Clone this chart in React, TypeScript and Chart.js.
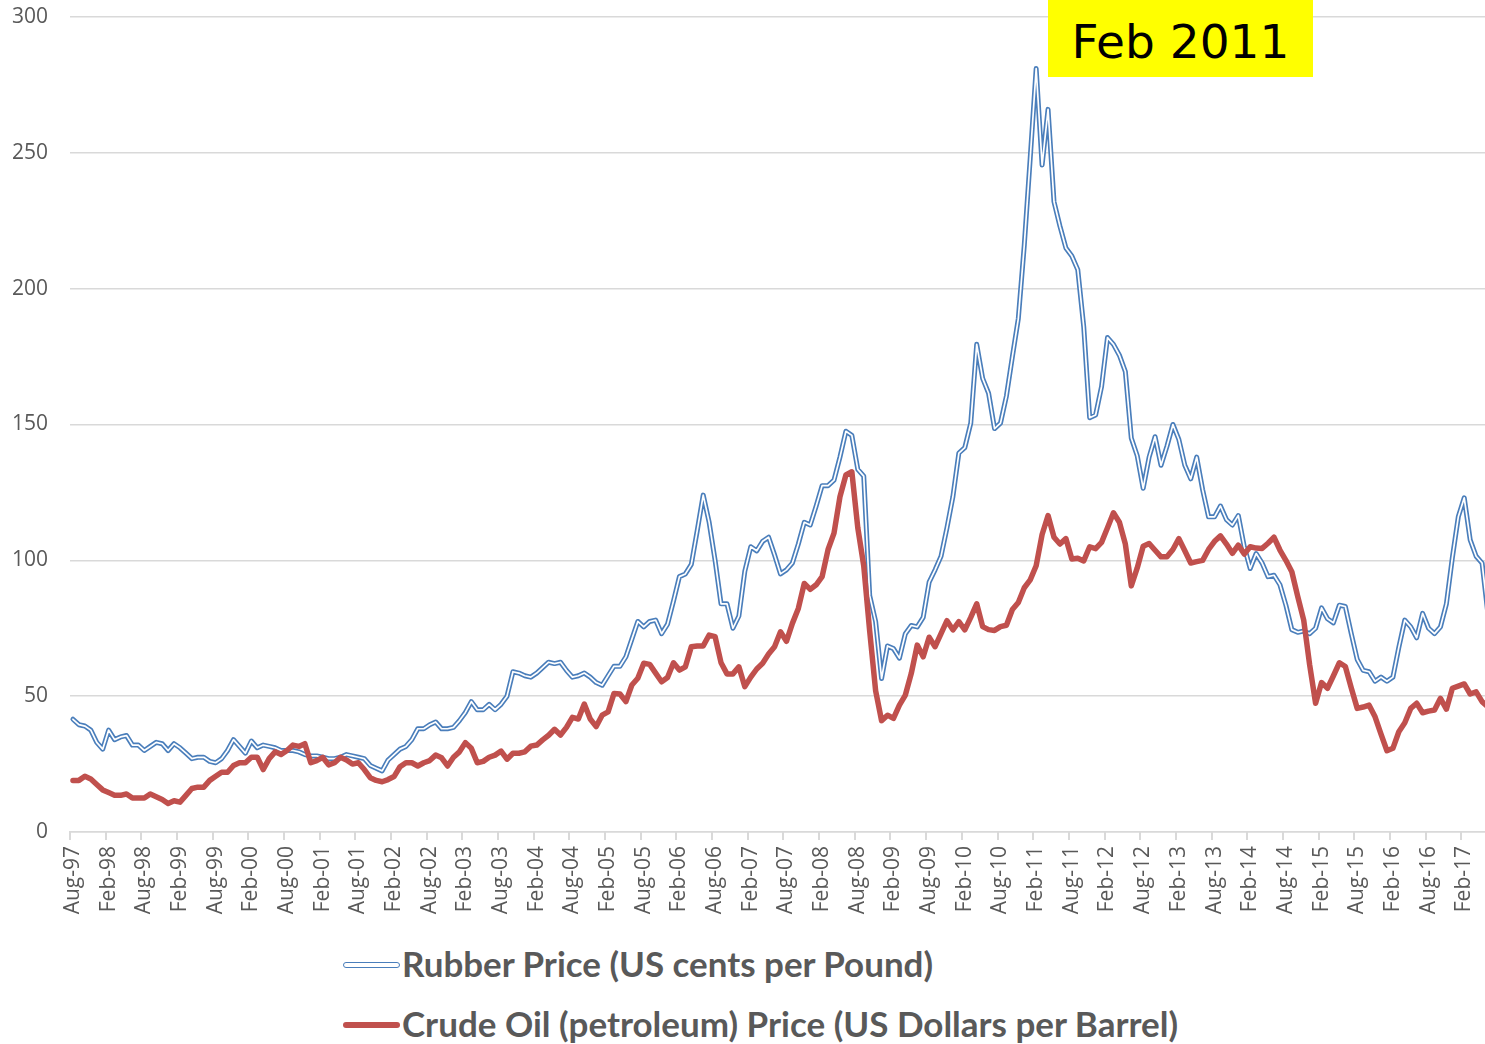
import React, { useEffect, useRef } from 'react';
import { Chart, registerables } from 'chart.js';

Chart.register(...registerables);

// Monthly series, Aug-97 .. Jun-17
const rubberPrice: number[] = [
  41.5, 39.5, 39, 37.5, 33, 30.5, 37.5, 34, 35, 35.5,
  32, 32, 30, 31.5, 33, 32.5, 30, 32.5, 31, 29,
  27, 27.5, 27.5, 26, 25.5, 27, 30, 34, 31.5, 29,
  33.5, 31, 32, 31.5, 31, 30, 30, 30, 29.5, 28.5,
  28, 28, 27.5, 27, 27, 27.5, 28.5, 28, 27.5, 27,
  24.5, 23.5, 22.5, 26.5, 28.5, 30.5, 31.5, 34, 38, 38,
  39.5, 40.5, 38, 38, 38.5, 41, 44, 48, 45, 45,
  47, 45, 47, 50, 59, 58.5, 57.5, 57, 58.5, 60.5,
  62.5, 62, 62.5, 59.5, 57, 57.5, 58.5, 57, 55, 54,
  57.5, 61, 61, 64.5, 71, 77.5, 75.5, 77.5, 78, 73,
  76.5, 85, 94, 95, 98.5, 111, 124, 114, 100, 84,
  84, 75, 79.5, 96, 105, 103.5, 107, 108.5, 102, 95,
  96.5, 99, 106, 114, 113, 120, 127.5, 127.5, 129.5, 138,
  147.5, 146, 133.5, 131, 87, 77.5, 56.5, 68.5, 67.5, 64,
  73, 76, 75.5, 79, 92, 96.5, 101.5, 112, 123.5, 139.5,
  141.5, 150.5, 179.5, 167, 161.5, 148.5, 150.5, 160.5, 175, 189,
  216, 248, 281, 245.5, 266, 232, 223, 215, 212, 207,
  186, 152.5, 153.5, 164, 182, 179.5, 175.5, 169.5, 145, 138.5,
  126.5, 138, 145.5, 135, 142, 150, 144.5, 135, 130, 138,
  126, 116, 116, 120, 115, 113, 116.5, 105, 97, 102.5,
  99, 94, 94.5, 91, 83.5, 74.5, 73.5, 74, 73, 75,
  82.5, 78.5, 77, 83.5, 83, 73, 63.5, 59.5, 59, 55.5,
  57, 55.5, 57, 68, 78, 75.5, 71.5, 80.5, 75, 73,
  75.5, 84, 101, 116, 123, 107.5, 101.5, 99, 80,
];

const crudeOilPrice: number[] = [
  19, 19, 20.5, 19.5, 17.5, 15.5, 14.5, 13.5, 13.5, 14,
  12.5, 12.5, 12.5, 14, 13, 12, 10.5, 11.5, 11, 13.5,
  16, 16.5, 16.5, 19, 20.5, 22, 22, 24.5, 25.5, 25.5,
  27.5, 27.5, 23, 27, 29.5, 28.5, 30, 32, 31.5, 32.5,
  25.5, 26.3, 27.5, 24.7, 25.5, 27.5, 26.5, 25, 25.5, 23,
  20, 19, 18.5, 19.3, 20.4, 24, 25.5, 25.5, 24.3, 25.5,
  26.3, 28.3, 27.3, 24.3, 27.5, 29.5, 32.9, 30.8, 25.5, 26,
  27.5, 28.3, 29.8, 26.8, 29, 29, 29.5, 31.6, 32, 33.9,
  35.6, 37.8, 35.7, 38.5, 42.2, 41.6, 47.1, 41.6, 38.8, 43,
  44.2, 51, 50.8, 48, 54.1, 56.6, 62.1, 61.7, 58.5, 55.3,
  56.9, 62.3, 59.6, 60.8, 68.2, 68.5, 68.5, 72.5, 71.9, 62.3,
  58.2, 58.2, 60.8, 53.5, 57, 60, 62.1, 65.5, 68.2, 73.7,
  70.2, 76.8, 82.3, 91.5, 89.3, 91, 94, 104, 110, 123.4,
  131.4, 132.6, 112, 98, 74, 52, 41, 43, 41.8, 46.7,
  50.4, 58.4, 68.8, 64.5, 71.7, 68.2, 73, 77.8, 74.4, 77.4,
  74.4, 79, 84, 75.6, 74.5, 74.2, 75.6, 76.1, 81.9, 84.5,
  89.9, 92.8, 98, 109.5, 116.5, 108.5, 106, 108, 100.5, 100.8,
  99.8, 105, 104.3, 106.6, 112, 117.5, 114, 106, 90.6, 97.2,
  105.2, 106.2, 103.7, 101.3, 101.3, 104, 108, 103.5, 99, 99.5,
  100, 104, 107, 109, 106, 102.6, 105.6, 102.3, 105, 104.5,
  104.4, 106.3, 108.5, 103.8, 100, 95.8, 86.6, 78, 61.5, 47.4,
  55, 52.9, 57.5, 62.3, 60.9, 53, 45.5, 46, 46.7, 42.4,
  36, 29.9, 30.8, 36.9, 40.2, 45.5, 47.4, 43.9, 44.5, 44.9,
  49.2, 45.2, 52.9, 53.7, 54.5, 50.8, 51.6, 48, 46,
];

const monthNames: string[] = ['Jan', 'Feb', 'Mar', 'Apr', 'May', 'Jun', 'Jul', 'Aug', 'Sep', 'Oct', 'Nov', 'Dec'];
const startYear = 1997;
const startMonth = 7; // Aug
const categories: string[] = rubberPrice.map((_, i) => {
  const m = (startMonth + i) % 12;
  const y = startYear + Math.floor((startMonth + i) / 12);
  return `${monthNames[m]}-${String(y % 100).padStart(2, '0')}`;
});
const labelEvery = 6;

const yTicks = { min: 0, max: 300, step: 50 };

const seriesNames = ['Rubber Price (US cents per Pound)', 'Crude Oil (petroleum) Price (US Dollars per Barrel)'];
const legendWidths = [531, 776];
const annotationText = 'Feb 2011';

const BLUE = '#4a7ebb';
const RED = '#c0504d';
const GRID = '#d9d9d9';
const TEXT = '#595959';

const tickMarkPlugin = {
  id: 'tickMarks',
  afterDraw(chart: any) {
    const s = chart.scales.x;
    const ctx = chart.ctx;
    const half = (s.getPixelForValue(1) - s.getPixelForValue(0)) / 2;
    ctx.save();
    ctx.strokeStyle = GRID;
    ctx.lineWidth = 2;
    for (let i = 0; i < categories.length; i += labelEvery) {
      const x = Math.round(s.getPixelForValue(i) - half);
      ctx.beginPath();
      ctx.moveTo(x, s.top);
      ctx.lineTo(x, s.top + 8);
      ctx.stroke();
    }
    ctx.restore();
  },
};

export default function App() {
  const ref = useRef<HTMLCanvasElement | null>(null);
  const legendRefs = useRef<(HTMLSpanElement | null)[]>([]);

  useEffect(() => {
    legendRefs.current.forEach((el, k) => {
      if (!el) return;
      el.style.transform = 'none';
      const w = el.getBoundingClientRect().width;
      if (w > 0) el.style.transform = `scaleX(${legendWidths[k] / w})`;
    });
  }, []);

  useEffect(() => {
    if (!ref.current) return;
    const tickFont = { family: '"Open Sans", sans-serif', size: 21 };
    const chart = new Chart(ref.current, {
      type: 'line',
      data: {
        labels: categories,
        datasets: [
          {
            label: seriesNames[1],
            data: crudeOilPrice,
            borderColor: RED,
            backgroundColor: RED,
            borderWidth: 5.5,
            pointRadius: 0,
            tension: 0,
            borderJoinStyle: 'round',
            borderCapStyle: 'round',
            order: 1,
          },
          {
            label: seriesNames[0] + ' inner',
            data: rubberPrice,
            borderColor: '#ffffff',
            borderWidth: 1.7,
            pointRadius: 0,
            tension: 0,
            borderJoinStyle: 'round',
            borderCapStyle: 'round',
            order: 2,
          },
          {
            label: seriesNames[0],
            data: rubberPrice,
            borderColor: BLUE,
            backgroundColor: BLUE,
            borderWidth: 5,
            pointRadius: 0,
            tension: 0,
            borderJoinStyle: 'round',
            borderCapStyle: 'round',
            order: 3,
          },
        ],
      },
      options: {
        responsive: false,
        animation: false,
        devicePixelRatio: 1,
        layout: { padding: { top: 17, right: 0, bottom: 0, left: 0 } },
        plugins: { legend: { display: false }, tooltip: { enabled: false } },
        scales: {
          x: {
            type: 'category',
            offset: true,
            grid: {
              offset: true,
              drawOnChartArea: false,
              drawTicks: true,
              tickLength: 8,
              lineWidth: 1.5,
              color: 'rgba(0,0,0,0)',
            },
            border: { display: true, color: GRID, width: 1.5 },
            ticks: {
              autoSkip: false,
              minRotation: 90,
              maxRotation: 90,
              padding: 6,
              color: TEXT,
              font: tickFont,
              callback: (_v: any, i: number) => (i % labelEvery === 0 ? categories[i] : null),
            },
            afterFit: (s: any) => {
              s.height = 100;
              s.paddingLeft = 0;
              s.paddingRight = 0;
            },
          },
          y: {
            min: yTicks.min,
            max: yTicks.max,
            ticks: { stepSize: yTicks.step, padding: 22, color: TEXT, font: tickFont },
            grid: { color: GRID, lineWidth: 1.5, drawTicks: false },
            border: { display: false },
            afterFit: (s: any) => {
              s.width = 70;
              s.paddingTop = 0;
              s.paddingBottom = 0;
            },
          },
        },
      },
      plugins: [tickMarkPlugin],
    } as any);
    return () => chart.destroy();
  }, []);

  return (
    <div
      style={{
        position: 'fixed',
        left: 0,
        top: 0,
        width: 1485,
        height: 1044,
        overflow: 'hidden',
        background: '#ffffff',
      }}
    >
      <canvas
        ref={ref}
        width={1491}
        height={932}
        style={{ position: 'absolute', left: 0, top: 0, width: 1491, height: 932 }}
      />
      <div
        style={{
          position: 'absolute',
          left: 1048,
          top: 0,
          width: 265,
          height: 77,
          background: '#ffff00',
          display: 'flex',
          alignItems: 'center',
          justifyContent: 'center',
          paddingTop: 5,
          boxSizing: 'border-box',
          fontFamily: '"DejaVu Sans", sans-serif',
          fontSize: 47,
          color: '#000000',
          whiteSpace: 'nowrap',
        }}
      >
        {annotationText}
      </div>
      {[0, 1].map((k) => {
        const cy = k === 0 ? 965 : 1025;
        return (
          <React.Fragment key={k}>
            {k === 0 ? (
              <div
                style={{
                  position: 'absolute',
                  left: 343,
                  top: cy - 2.6,
                  width: 57,
                  height: 5.2,
                  boxSizing: 'border-box',
                  border: `1.7px solid ${BLUE}`,
                  borderRadius: 3,
                  background: '#ffffff',
                }}
              />
            ) : (
              <div
                style={{
                  position: 'absolute',
                  left: 343,
                  top: cy - 2.9,
                  width: 57,
                  height: 5.8,
                  borderRadius: 3,
                  background: RED,
                }}
              />
            )}
            <span
              ref={(el) => {
                legendRefs.current[k] = el;
              }}
              style={{
                position: 'absolute',
                left: 402,
                top: cy - 21,
                lineHeight: '40px',
                fontFamily: 'Lato, "Open Sans", sans-serif',
                fontWeight: 'bold',
                fontSize: 34,
                color: TEXT,
                whiteSpace: 'nowrap',
                transformOrigin: 'left center',
                display: 'inline-block',
              }}
            >
              {seriesNames[k]}
            </span>
          </React.Fragment>
        );
      })}
    </div>
  );
}
